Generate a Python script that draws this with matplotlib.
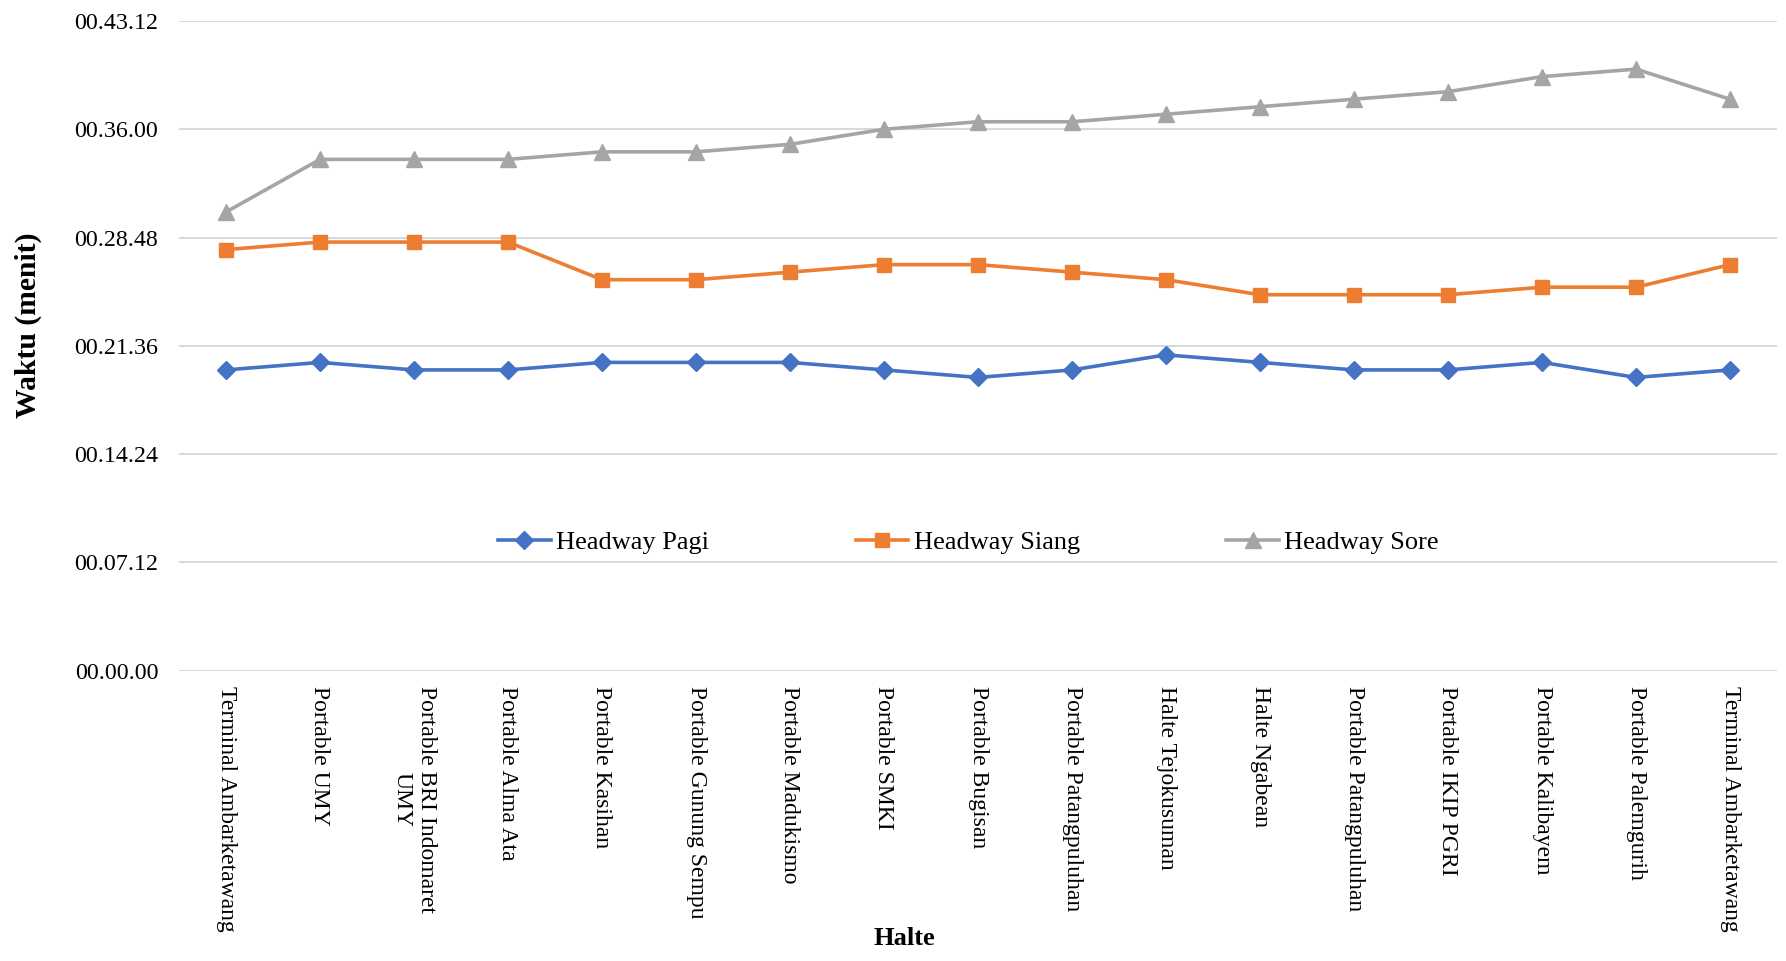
import matplotlib
matplotlib.use("Agg")
import matplotlib.pyplot as plt
from matplotlib.ticker import FuncFormatter, MultipleLocator

plt.rcParams["font.family"] = ["Liberation Serif", "DejaVu Serif"]

# Bus stops along the route
halte = [
    "Terminal Ambarketawang", "Portable UMY", "Portable BRI Indomaret\nUMY",
    "Portable Alma Ata", "Portable Kasihan", "Portable Gunung Sempu",
    "Portable Madukismo", "Portable SMKI", "Portable Bugisan",
    "Portable Patangpuluhan", "Halte Tejokusuman", "Halte Ngabean",
    "Portable Patangpuluhan", "Portable IKIP PGRI", "Portable Kalibayem",
    "Portable Palemgurih", "Terminal Ambarketawang",
]

# Headway per stop, as "mm:ss" strings
pagi = ["20:00", "20:30", "20:00", "20:00", "20:30", "20:30", "20:30", "20:00",
        "19:30", "20:00", "21:00", "20:30", "20:00", "20:00", "20:30", "19:30", "20:00"]
siang = ["28:00", "28:30", "28:30", "28:30", "26:00", "26:00", "26:30", "27:00",
         "27:00", "26:30", "26:00", "25:00", "25:00", "25:00", "25:30", "25:30", "27:00"]
sore = ["30:30", "34:00", "34:00", "34:00", "34:30", "34:30", "35:00", "36:00",
        "36:30", "36:30", "37:00", "37:30", "38:00", "38:30", "39:30", "40:00", "38:00"]

series_names = ["Headway Pagi", "Headway Siang", "Headway Sore"]


def to_seconds(values):
    out = []
    for v in values:
        m, s = v.split(":")
        out.append(int(m) * 60 + int(s))
    return out


def fmt_time(sec, _pos=None):
    sec = int(round(sec))
    h, rem = divmod(sec, 3600)
    m, s = divmod(rem, 60)
    return f"{h:02d}.{m:02d}.{s:02d}"


fig = plt.figure(figsize=(17.86, 9.61), dpi=100)
ax = fig.add_axes([179 / 1786, 1 - 670.7 / 961, 1598 / 1786, 649.7 / 961])

x = list(range(len(halte)))
styles = [
    dict(color="#4472C4", marker="D", markersize=9.5),
    dict(color="#ED7D31", marker="s", markersize=10.5),
    dict(color="#A5A5A5", marker="^", markersize=11),
]
for name, vals, st in zip(series_names, [pagi, siang, sore], styles):
    ax.plot(x, to_seconds(vals), label=name, linewidth=2.6, zorder=3, **st)

ax.set_xlim(-0.5, len(halte) - 0.5)
ax.set_ylim(0, 2592)
ax.yaxis.set_major_locator(MultipleLocator(432))
ax.yaxis.set_major_formatter(FuncFormatter(fmt_time))
ax.grid(axis="y", color="#D9D9D9", linewidth=1.5, zorder=0)
ax.set_axisbelow(True)
for sp in ax.spines.values():
    sp.set_visible(False)

ax.set_xticks(x)
ax.set_xticklabels(halte, rotation=-90, fontsize=17, multialignment="center")
ax.tick_params(axis="x", length=0, pad=11)
ax.tick_params(axis="y", length=0, pad=15, labelsize=17.3)

ax.set_ylabel("Waktu (menit)", fontsize=21.3, fontweight="bold", va="center")
ax.yaxis.set_label_coords(-0.0940, 0.531)
ax.set_xlabel("Halte", fontsize=19, fontweight="bold", va="center")
ax.xaxis.set_label_coords(0.4537, -0.412)

ax.legend(loc="center", bbox_to_anchor=(0.494, 0.198), ncol=3, frameon=False,
          fontsize=19, handlelength=2.0, handletextpad=0.2, columnspacing=5.55,
          numpoints=1)

fig.savefig("out.png", dpi=100, facecolor="white")
